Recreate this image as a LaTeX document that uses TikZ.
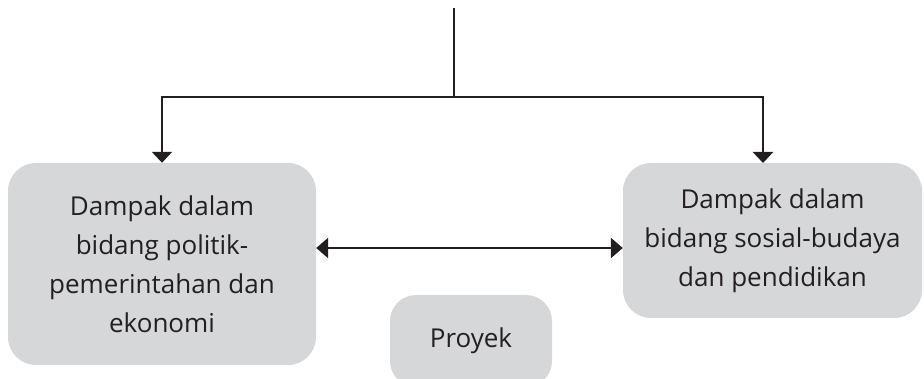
\documentclass[tikz,border=0pt]{standalone}
\usepackage{fontspec}
\setmainfont{Open Sans}
\usetikzlibrary{arrows.meta}
\definecolor{boxgray}{HTML}{D6D7D9}
\definecolor{ink}{HTML}{231F20}
\begin{document}
\begin{tikzpicture}[x=1pt,y=-1pt,
  box/.style={fill=boxgray,draw=none,rounded corners=28pt,inner sep=0pt,
    align=center,text=ink,font=\fontsize{26}{39}\selectfont},
  conn/.style={draw=ink,line width=2.6pt},
  arr/.style={conn,-{Triangle[width=20pt,length=11pt]}},
  darr/.style={conn,{Triangle[width=20pt,length=12pt]}-{Triangle[width=20pt,length=12pt]}}]
\useasboundingbox (0,0) rectangle (924,379);
\node[box,minimum width=308pt,minimum height=202pt] (L) at (162,264)
  {Dampak dalam\\bidang politik-\\pemerintahan dan\\ekonomi};
\node[box,minimum width=299pt,minimum height=155pt] (R) at (772.5,240.5)
  {Dampak dalam\\bidang sosial-budaya\\dan pendidikan};
\node[box,minimum width=162pt,minimum height=92pt,rounded corners=26pt] (P) at (471,341)
  {Proyek};
\coordinate (top) at (454,8);
\coordinate (j) at (454,97);
\coordinate (rt) at (763,163);
\draw[conn] (top) -- (j);
\draw[arr] (j) -| (L.north);
\draw[arr] (j) -| (rt);
\draw[darr] (L.east |- 0,248) -- (R.west |- 0,248);
\end{tikzpicture}
\end{document}
